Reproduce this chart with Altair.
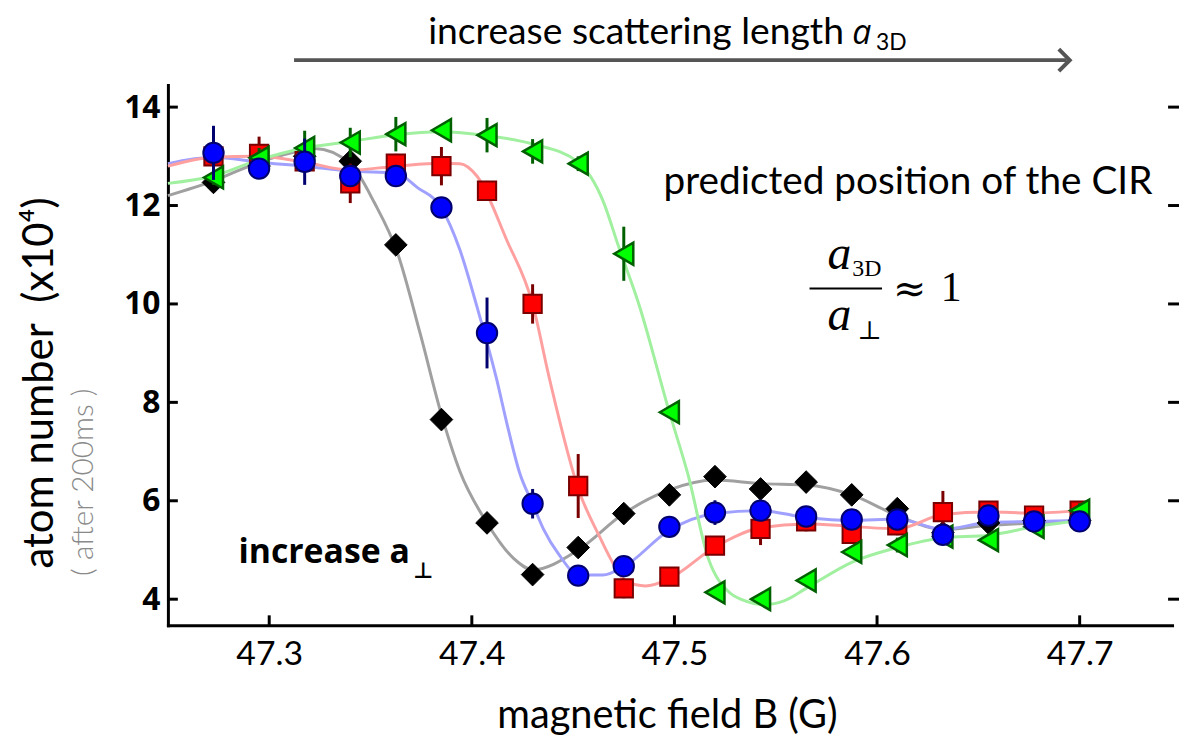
import altair as alt
import pandas as pd

# ---------------- data ----------------
B = [47.2725, 47.295, 47.3175, 47.34, 47.3625, 47.385, 47.4075, 47.43, 47.4525, 47.475,
     47.4975, 47.52, 47.5425, 47.565, 47.5875, 47.61, 47.6325, 47.655, 47.6775, 47.7]

black_N = [12.47, 12.8, 13.0, 12.9, 11.2, 7.65, 5.55, 4.5, 5.05, 5.74,
           6.12, 6.49, 6.24, 6.38, 6.12, 5.84, 5.35, 5.55, 5.6, 5.6]
black_err = [0] * 20

red_N = [13.0, 13.05, 12.9, 12.45, 12.85, 12.8, 12.3, 10.0, 6.3, 4.22,
         4.46, 5.09, 5.43, 5.58, 5.33, 5.5, 5.77, 5.8, 5.7, 5.8]
red_err = [0.2, 0.35, 0.2, 0.4, 0.2, 0.39, 0.2, 0.4, 0.65, 0.2,
           0.1, 0.1, 0.33, 0.2, 0.1, 0.2, 0.43, 0.1, 0.1, 0.15]

blue_N = [13.07, 12.75, 12.89, 12.6, 12.6, 11.96, 9.41, 5.94, 4.48, 4.67,
          5.47, 5.76, 5.8, 5.68, 5.62, 5.62, 5.31, 5.7, 5.58, 5.58]
blue_err = [0.55, 0.1, 0.47, 0.2, 0.1, 0.1, 0.72, 0.3, 0.1, 0.15,
            0.1, 0.25, 0.1, 0.1, 0.1, 0.1, 0.2, 0.1, 0.1, 0.1]

green_N = [12.57, 12.97, 13.17, 13.28, 13.45, 13.53, 13.43, 13.1, 12.85, 11.02,
           7.8, 4.14, 4.0, 4.38, 4.96, 5.1, 5.27, 5.2, 5.47, 5.8]
green_err = [0.15, 0.2, 0.35, 0.3, 0.35, 0.1, 0.35, 0.25, 0.15, 0.55,
             0.1, 0.1, 0.1, 0.1, 0.1, 0.15, 0.15, 0.1, 0.1, 0.15]

# fitted curves
gray_B = [47.25, 47.2725, 47.295, 47.3175, 47.3225, 47.34, 47.352, 47.3632, 47.3745, 47.385,
          47.3941, 47.4075, 47.4206, 47.43, 47.4525, 47.475, 47.4975, 47.52, 47.5425, 47.565,
          47.5875, 47.61, 47.6325, 47.655, 47.6775, 47.7]
gray_N = [12.2, 12.5, 12.88, 13.13, 13.16, 12.85, 12.05, 11.05, 9.4, 7.75,
          6.6, 5.55, 4.83, 4.6, 5.0, 5.74, 6.22, 6.42, 6.35, 6.32,
          6.12, 5.7, 5.42, 5.5, 5.55, 5.6]

blue_cB = [47.25, 47.2725, 47.295, 47.3175, 47.34, 47.3625, 47.373, 47.385, 47.3941, 47.4025,
           47.4123, 47.4172, 47.4235, 47.43, 47.4353, 47.4431, 47.4529, 47.4647, 47.475, 47.4975,
           47.52, 47.5425, 47.565, 47.5875, 47.61, 47.6325, 47.655, 47.6775, 47.7]
blue_cN = [12.85, 12.98, 12.88, 12.8, 12.7, 12.66, 12.37, 11.95, 11.1, 9.95,
           8.46, 7.59, 6.58, 5.94, 5.43, 4.9, 4.49, 4.49, 4.66, 5.4,
           5.74, 5.8, 5.66, 5.6, 5.63, 5.42, 5.56, 5.58, 5.6]

red_cB = [47.25, 47.2725, 47.295, 47.3175, 47.34, 47.3625, 47.385, 47.3941, 47.4025, 47.4172,
          47.43, 47.4382, 47.4529, 47.4627, 47.4711, 47.476, 47.4858, 47.4975, 47.52, 47.5425,
          47.565, 47.5875, 47.61, 47.6325, 47.655, 47.6775, 47.7]
red_cN = [12.8, 12.98, 13.0, 12.88, 12.72, 12.8, 12.86, 12.85, 12.6, 11.3,
          10.0, 8.5, 6.2, 5.3, 4.63, 4.36, 4.27, 4.42, 5.06, 5.45,
          5.53, 5.48, 5.43, 5.72, 5.77, 5.75, 5.8]

green_cB = [47.25, 47.2725, 47.295, 47.3175, 47.34, 47.3625, 47.385, 47.4075, 47.43, 47.4525,
            47.4647, 47.4725, 47.4824, 47.4975, 47.5069, 47.5167, 47.5265, 47.5333, 47.5446, 47.5544,
            47.565, 47.5875, 47.61, 47.6325, 47.655, 47.6775, 47.7]
green_cN = [12.45, 12.6, 12.93, 13.17, 13.3, 13.44, 13.5, 13.42, 13.25, 12.88,
            12.1, 11.16, 10.0, 7.8, 6.5, 4.83, 4.16, 3.99, 3.89, 3.97,
            4.22, 4.75, 5.05, 5.25, 5.3, 5.47, 5.6]

x_ticks = [47.3, 47.4, 47.5, 47.6, 47.7]
y_ticks = [4, 6, 8, 10, 12, 14]

# ---------------- layout ----------------
W, H = 1011, 544
xs = alt.Scale(domain=[47.25, 47.7456], nice=False, zero=False)
ys = alt.Scale(domain=[3.47, 14.45], nice=False, zero=False)
HUM = "Lato"

xaxis = alt.Axis(values=x_ticks, format=".1f", ticks=False, grid=False, title=None,
                 domainWidth=3, domainColor="black", domainCap="square",
                 labelFont=HUM, labelFontSize=34, labelPadding=12, labelColor="black")
yaxis = alt.Axis(values=y_ticks, format="d", ticks=False, grid=False, title=None,
                 domainWidth=3, domainColor="black", domainCap="square",
                 labelFont="Open Sans", labelFontWeight="bold", labelFontSize=32,
                 labelPadding=8, labelColor="black")


def X(field="B"):
    return alt.X(f"{field}:Q", scale=xs, axis=xaxis)


def Y(field="N"):
    return alt.Y(f"{field}:Q", scale=ys, axis=yaxis)


layers = []

# inward ticks (left, right edge and bottom)
layers.append(alt.Chart(pd.DataFrame({"B": x_ticks})).mark_rule(color="black", strokeWidth=3).encode(
    x=X("B"), y=alt.value(H - 10), y2=alt.value(H)))
layers.append(alt.Chart(pd.DataFrame({"N": y_ticks})).mark_rule(color="black", strokeWidth=3).encode(
    y=Y("N"), x=alt.value(0), x2=alt.value(10)))
layers.append(alt.Chart(pd.DataFrame({"N": y_ticks})).mark_rule(color="black", strokeWidth=3).encode(
    y=Y("N"), x=alt.value(W - 4), x2=alt.value(W + 7)))

# fitted curves
for cb, cn, col in [(gray_B, gray_N, "#a0a0a0"), (blue_cB, blue_cN, "#a0a0ff"),
                    (red_cB, red_cN, "#ffa0a0"), (green_cB, green_cN, "#a0f0a0")]:
    layers.append(alt.Chart(pd.DataFrame({"B": cb, "N": cn})).mark_line(
        color=col, strokeWidth=3, interpolate="monotone").encode(x=X(), y=Y()))

# data points with error bars
series = [
    (black_N, black_err, "diamond", "#000000", "#000000", 520, 1.0),
    (red_N, red_err, "square", "#ff0000", "#7a0000", 340, 2.0),
    (green_N, green_err, "triangle-left", "#00ff00", "#006000", 490, 2.5),
    (blue_N, blue_err, "circle", "#0000ff", "#00006e", 420, 2.0),
]
for n, e, shape, fill, stroke, size, sw in series:
    df = pd.DataFrame({"B": B, "N": n, "lo": [a - b for a, b in zip(n, e)],
                       "hi": [a + b for a, b in zip(n, e)]})
    layers.append(alt.Chart(df).mark_rule(color=stroke, strokeWidth=3).encode(
        x=X(), y=Y("lo"), y2="hi:Q"))
    layers.append(alt.Chart(df).mark_point(shape=shape, filled=True, fill=fill, stroke=stroke,
                                           strokeWidth=sw, size=size, opacity=1).encode(x=X(), y=Y()))


def txt(text, x, y, size, font=HUM, weight="normal", style="normal", color="black",
        align="left", baseline="alphabetic", angle=0):
    return alt.Chart(pd.DataFrame({"t": [text]})).mark_text(
        font=font, fontSize=size, fontWeight=weight, fontStyle=style, color=color,
        align=align, baseline=baseline, angle=angle).encode(
        text="t:N", x=alt.value(x), y=alt.value(y))


# top arrow and caption
layers.append(alt.Chart(pd.DataFrame({"a": [0]})).mark_rule(color="#555555", strokeWidth=4).encode(
    x=alt.value(127), x2=alt.value(905), y=alt.value(-25)))
layers.append(alt.Chart(pd.DataFrame({"a": [0]})).mark_point(
    shape="M -1 -1 L 0 0 L -1 1", filled=False, size=484, strokeWidth=4, color="#555555",
    opacity=1).encode(x=alt.value(908), y=alt.value(-25)))
layers.append(txt("increase scattering length", 262, -41, 37.5))
layers.append(txt("a", 689, -41, 34, font="Open Sans", style="italic"))
layers.append(txt("3D", 713, -35, 23))

# annotations inside the plot
layers.append(txt("predicted position of the CIR", 499, 110, 39))
layers.append(txt("a", 664, 185, 48, font="Liberation Serif", style="italic"))
layers.append(txt("3D", 689, 192, 24, font="Liberation Serif"))
layers.append(alt.Chart(pd.DataFrame({"a": [0]})).mark_rule(color="black", strokeWidth=2).encode(
    x=alt.value(646), x2=alt.value(719), y=alt.value(205)))
layers.append(txt("a", 664, 247, 48, font="Liberation Serif", style="italic"))
layers.append(txt("⊥", 694, 256, 26, font="DejaVu Serif"))
layers.append(txt("≈", 730, 207, 40, font="DejaVu Serif", baseline="middle"))
layers.append(txt("1", 778, 218, 42, font="Liberation Serif"))

layers.append(txt("increase a", 71, 481, 34, font="Open Sans", weight="bold"))
layers.append(txt("⊥", 247, 496, 22, font="DejaVu Sans", weight="bold"))

# axis titles
layers.append(txt("magnetic field B (G)", 503, 635, 40, align="center", baseline="middle"))
layers.append(txt("atom number\u00a0\u00a0(x10⁴)", -129, 300, 42, align="center",
                  baseline="middle", angle=270))
layers.append(txt("( after 200ms )", -84, 400, 30, weight=300, color="#8a8a8a",
                  align="center", baseline="middle", angle=270))

chart = alt.layer(*layers).properties(
    width=W, height=H,
    background="white",
    autosize=alt.AutoSizeParams(type="none"),
    padding={"left": 161, "top": 75, "right": 7, "bottom": 110},
).configure_view(stroke=None)

chart.save("out.html", embed_options={"renderer": "svg", "actions": False})
